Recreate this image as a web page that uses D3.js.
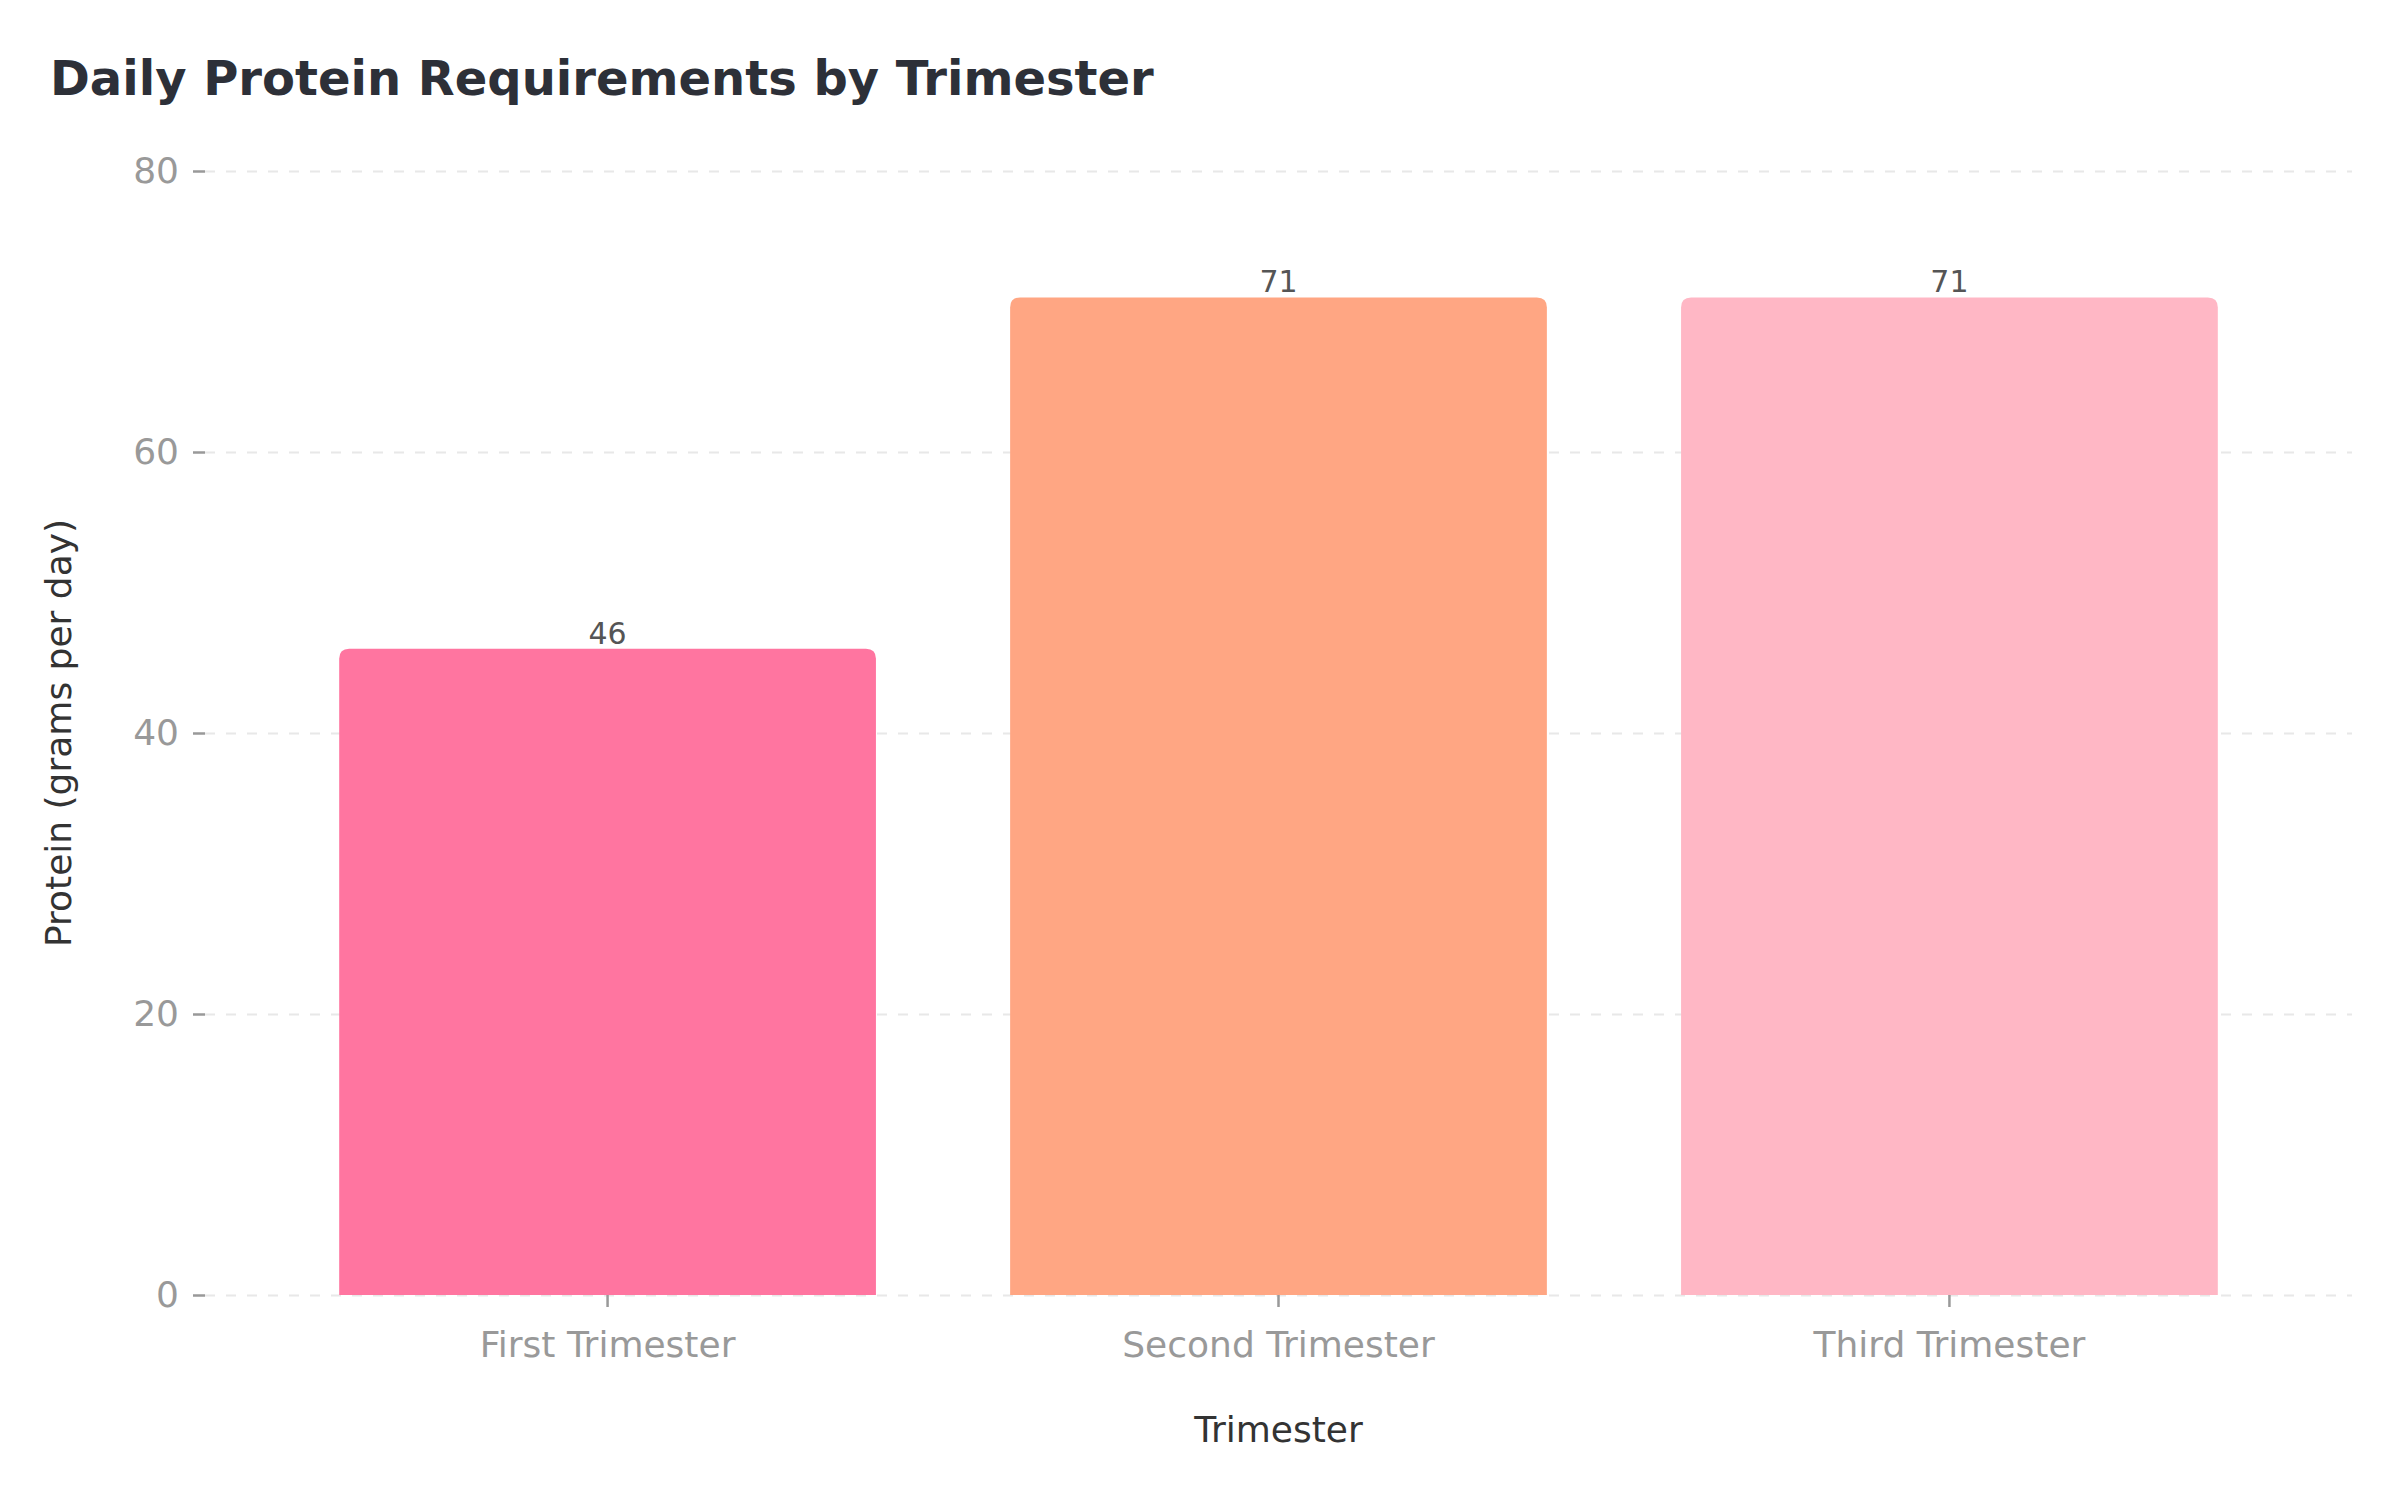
<!DOCTYPE html>
<html lang="en">

<head>
    <meta charset="UTF-8">
    <title>Daily Protein Requirements by Trimester</title>
    <script src="https://d3js.org/d3.v7.min.js"></script>
    <style>
        body {
            margin: 0;
            background-color: #fff;
            font-family: "DejaVu Sans", sans-serif;
        }

        svg {
            display: block;
        }
    </style>
</head>

<body>
    <svg id="chart" width="2400" height="1500"></svg>

    <script>
        // data
        const trimesters = ["First Trimester", "Second Trimester", "Third Trimester"];
        const protein = [46, 71, 71];
        const barColors = ["#ff75a0", "#ffa683", "#ffb7c5"];
        const yTicks = [0, 20, 40, 60, 80];

        const rows = trimesters.map((t, i) => ({ trimester: t, value: protein[i], color: barColors[i] }));

        const svg = d3.select("#chart");
        const margin = { top: 171, right: 48, bottom: 205, left: 205 };
        const width = +svg.attr("width");
        const height = +svg.attr("height");
        const plotW = width - margin.left - margin.right;
        const plotH = height - margin.top - margin.bottom;

        const chart = svg.append("g")
            .attr("transform", `translate(${margin.left},${margin.top})`);

        const x = d3.scaleBand()
            .domain(trimesters)
            .range([0, plotW])
            .paddingInner(0.2)
            .paddingOuter(0.2);

        const y = d3.scaleLinear()
            .domain([0, 80])
            .range([plotH, 0]);

        // dashed horizontal grid
        const grid = chart.append("g")
            .call(d3.axisLeft(y).tickValues(yTicks).tickSize(-plotW).tickFormat(""));
        grid.select(".domain").remove();
        grid.selectAll("line")
            .attr("stroke", "#e8e8e8")
            .attr("stroke-width", 2)
            .attr("stroke-dasharray", "10,11");

        // bars with rounded top corners
        const r = 10;
        const barPath = d => {
            const x0 = x(d.trimester), x1 = x0 + x.bandwidth();
            const y0 = y(d.value), y1 = y(0);
            return `M${x0},${y1} L${x0},${y0 + r} Q${x0},${y0} ${x0 + r},${y0}
                    L${x1 - r},${y0} Q${x1},${y0} ${x1},${y0 + r} L${x1},${y1} Z`;
        };

        chart.selectAll("path.bar")
            .data(rows)
            .join("path")
            .attr("class", "bar")
            .attr("d", barPath)
            .attr("fill", d => d.color);

        chart.selectAll("text.value")
            .data(rows)
            .join("text")
            .attr("class", "value")
            .attr("x", d => x(d.trimester) + x.bandwidth() / 2)
            .attr("y", d => y(d.value) - 5)
            .attr("text-anchor", "middle")
            .attr("font-size", 30)
            .attr("fill", "#555")
            .text(d => d.value);

        // axes
        const yAxis = chart.append("g")
            .call(d3.axisLeft(y).tickValues(yTicks).tickSize(12).tickPadding(14));
        const xAxis = chart.append("g")
            .attr("transform", `translate(0,${plotH})`)
            .call(d3.axisBottom(x).tickSize(12).tickPadding(24));

        [xAxis, yAxis].forEach(ax => {
            ax.select(".domain").remove();
            ax.selectAll("line").attr("stroke", "#999").attr("stroke-width", 2.5);
            ax.selectAll("text")
                .attr("font-family", "DejaVu Sans")
                .attr("font-size", 36)
                .attr("fill", "#999");
        });

        // labels
        svg.append("text")
            .attr("x", 50)
            .attr("y", 95)
            .attr("font-size", 48)
            .attr("font-weight", "bold")
            .attr("fill", "#2d3038")
            .text("Daily Protein Requirements by Trimester");

        svg.append("text")
            .attr("x", margin.left + plotW / 2)
            .attr("y", 1442)
            .attr("text-anchor", "middle")
            .attr("font-size", 36)
            .attr("fill", "#333")
            .text("Trimester");

        svg.append("text")
            .attr("transform", `translate(71,${margin.top + y(40)}) rotate(-90)`)
            .attr("text-anchor", "middle")
            .attr("font-size", 36)
            .attr("fill", "#333")
            .text("Protein (grams per day)");
    </script>

</body>

</html>
